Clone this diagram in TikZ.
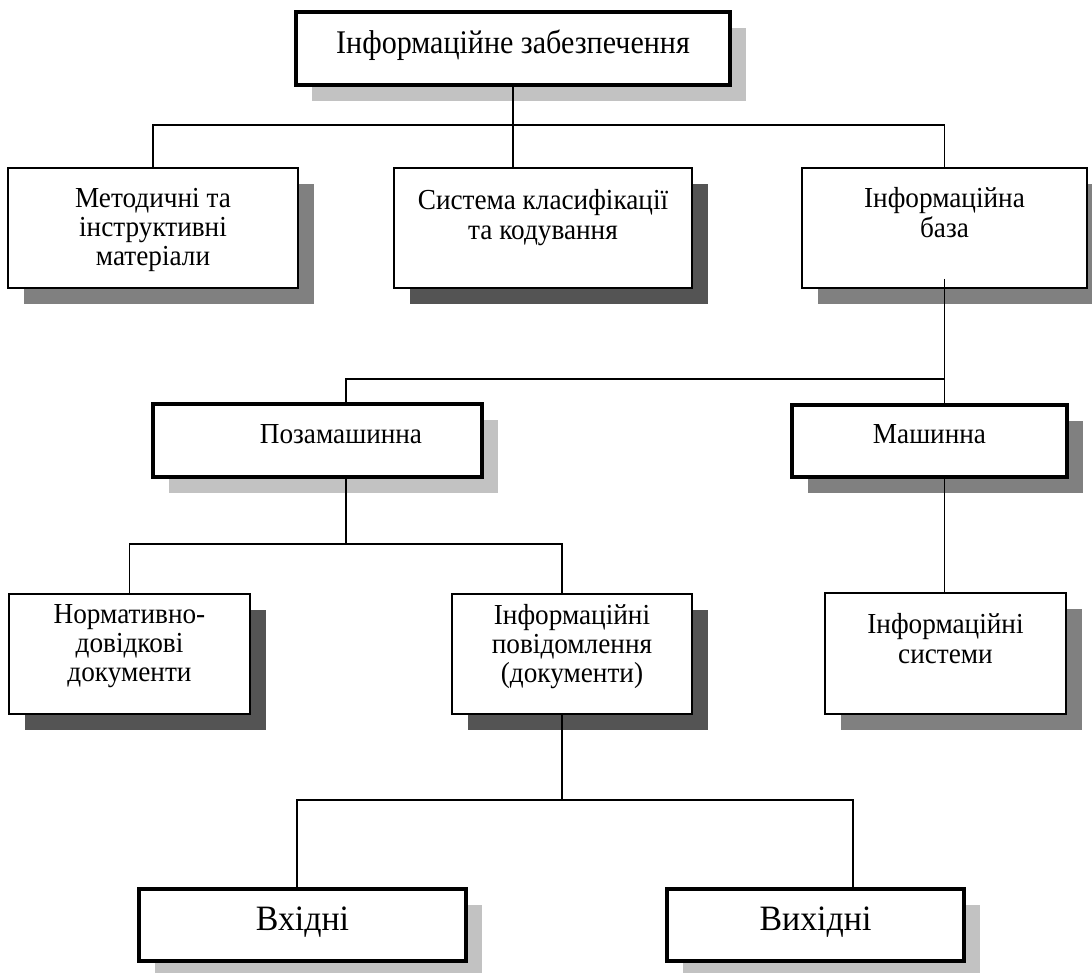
\documentclass[tikz,border=0pt]{standalone}
\usepackage{fontspec}
\setmainfont{Liberation Serif}[FakeStretch=0.94]
\newfontfamily\titlefont{Liberation Serif}[FakeStretch=0.91]
\newfontfamily\leaffont{Liberation Serif}[FakeStretch=0.95]
\usetikzlibrary{shadows}
\definecolor{shadelight}{gray}{0.76}
\definecolor{shademid}{gray}{0.5}
\definecolor{shadedark}{gray}{0.33}

\tikzset{
  box/.style={draw, fill=white, line width=1.1pt, inner sep=0pt, anchor=north},
  boldbox/.style={box, line width=2.3pt},
  link/.style={line width=1.1pt},
  lightshadow/.style={drop shadow={shadow xshift=0.32cm, shadow yshift=-0.32cm, fill=shadelight, opacity=1}},
  midshadow/.style={drop shadow={shadow xshift=0.32cm, shadow yshift=-0.32cm, fill=shademid, opacity=1}},
  darkshadow/.style={drop shadow={shadow xshift=0.32cm, shadow yshift=-0.32cm, fill=shadedark, opacity=1}},
  caption/.style={anchor=north, align=center, inner sep=0pt, execute at begin node=\strut,
    font=\fontsize{16.5}{16.6}\selectfont},
  bigcaption/.style={caption, font=\titlefont\fontsize{18.8}{22.2}\selectfont},
  hugecaption/.style={caption, font=\leaffont\fontsize{20.3}{23.8}\selectfont}
}

\begin{document}
\begin{tikzpicture}[x=0.02cm, y=-0.02cm]
        \useasboundingbox (0,0) rectangle (1092,973);
        \clip (0,0) rectangle (1092,973);

        % Top level
        \node[boldbox, lightshadow, minimum width=8.68cm, minimum height=1.46cm,
          label={[bigcaption, yshift=-0.31cm]north:Інформаційне забезпечення}] (top) at (513,10) {};

        % Second level
        \node[box, midshadow, minimum width=5.8cm, minimum height=2.4cm,
          label={[caption, yshift=-0.41cm]north:{Методичні та\\інструктивні\\матеріали}}] (mi) at (153,167) {};
        \node[box, darkshadow, minimum width=5.96cm, minimum height=2.4cm,
          label={[caption, yshift=-0.45cm]north:{Система класифікації\\та кодування}}] (sk) at (543,167) {};
        \node[box, midshadow, minimum width=5.7cm, minimum height=2.4cm,
          label={[caption, yshift=-0.41cm]north:{Інформаційна\\база}}] (ib) at (944.5,167) {};

        % Information base
        \node[boldbox, lightshadow, minimum width=6.58cm, minimum height=1.46cm,
          label={[caption, xshift=0.47cm, yshift=-0.41cm]north:Позамашинна}] (pz) at (317.5,402) {};
        \node[boldbox, midshadow, minimum width=5.5cm, minimum height=1.44cm,
          label={[caption, yshift=-0.39cm]north:Машинна}] (ms) at (929.5,403) {};

        % Fourth level
        \node[box, darkshadow, minimum width=4.82cm, minimum height=2.4cm,
          label={[caption, yshift=-0.22cm]north:{Нормативно-\\довідкові\\документи}}] (nd) at (129.5,593) {};
        \node[box, darkshadow, minimum width=4.8cm, minimum height=2.4cm,
          label={[caption, yshift=-0.22cm]north:{Інформаційні\\повідомлення\\(документи)}}] (ip) at (572,593) {};
        \node[box, midshadow, minimum width=4.82cm, minimum height=2.42cm,
          label={[caption, yshift=-0.43cm]north:{Інформаційні\\системи}}] (is) at (945.5,592) {};

        % Documents
        \node[boldbox, lightshadow, minimum width=6.54cm, minimum height=1.44cm,
          label={[hugecaption, yshift=-0.27cm]north:Вхідні}] (vh) at (302.5,887) {};
        \node[boldbox, lightshadow, minimum width=5.94cm, minimum height=1.44cm,
          label={[hugecaption, yshift=-0.27cm]north:Вихідні}] (vy) at (815.5,887) {};

        % Bus points
        \coordinate (bus1) at (513,125);
        \coordinate (bus2) at (346,379);
        \coordinate (bus3) at (346,544);
        \coordinate (bus3r) at (562,544);
        \coordinate (bus4) at (562,800);
        \coordinate (bus4l) at (297,800);
        \coordinate (bus4r) at (853,800);

        % Connectors
        \draw[link] (top.south) -- (top.south |- sk.north);
        \draw[link] (mi.north) |- (bus1) -| (ib.north);
        \draw[link] ([yshift=0.2cm]ib.south) -- (ib.south |- ms.north);
        \draw[link] (ib.south |- bus2) -- (bus2) -- (bus2 |- pz.north);
        \draw[link] (bus2 |- pz.south) -- (bus3);
        \draw[link] (nd.north) |- (bus3r) -- (bus3r |- ip.north);
        \draw[link] (ms.south -| ib.south) -- (ib.south |- is.north);
        \draw[link] (bus3r |- ip.south) -- (bus4);
        \draw[link] (bus4l |- vh.north) -- (bus4l) -- (bus4r) -- (bus4r |- vy.north);
      \end{tikzpicture}
\end{document}
